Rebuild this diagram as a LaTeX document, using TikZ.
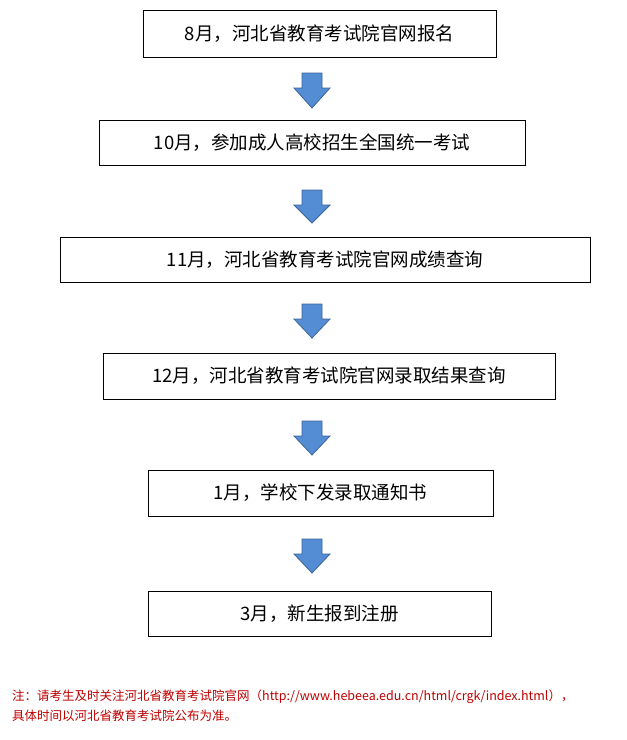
\documentclass[tikz,border=0pt]{standalone}
\usepackage{fontspec}
\newfontfamily\cjk{Noto Sans CJK SC}
\begin{document}
\begin{tikzpicture}[x=1pt,y=-1pt,
 box/.style={draw=black,line width=0.9pt,inner sep=0pt,font=\cjk\fontsize{18.5}{20}\selectfont},
 note/.style={anchor=west,text=red!75!black,font=\cjk\fontsize{12.5}{14}\selectfont,inner sep=0pt}]
\useasboundingbox (0,0) rectangle (627,740);
\fill[white] (0,0) rectangle (627,740);
\newcommand{\bx}[6]{\node[box,minimum width=#4-#2,minimum height=#5-#3] (#1) at ({(#2+#4)/2},{(#3+#5)/2}) {#6};}
\bx{b1}{143}{10}{496}{57}{8月，河北省教育考试院官网报名}
\bx{b2}{99}{120}{525}{165}{10月，参加成人高校招生全国统一考试}
\bx{b3}{60}{237}{590}{282}{11月，河北省教育考试院官网成绩查询}
\bx{b4}{103}{353}{555}{399}{12月，河北省教育考试院官网录取结果查询}
\bx{b5}{148}{470}{493}{516}{1月，学校下发录取通知书}
\bx{b6}{148}{591}{491}{636}{3月，新生报到注册}
\definecolor{arrowc}{RGB}{84,141,212}
\definecolor{arrowd}{RGB}{60,100,150}
\newcommand{\arr}[2]{\filldraw[fill=arrowc,draw=arrowd,line width=0.8pt] (302,#1)--(322,#1)--(322,#1+15)--(330,#1+15)--(312,#2)--(294,#1+15)--(302,#1+15)--cycle;}
\arr{73}{108}
\arr{190}{223}
\arr{304}{338}
\arr{421}{455}
\arr{539}{573}
\node[note] (n1) at (12,697) {注：请考生及时关注河北省教育考试院官网（http://www.hebeea.edu.cn/html/crgk/index.html），};
\node[note] (n2) at (12,716) {具体时间以河北省教育考试院公布为准。};
\end{tikzpicture}
\end{document}
